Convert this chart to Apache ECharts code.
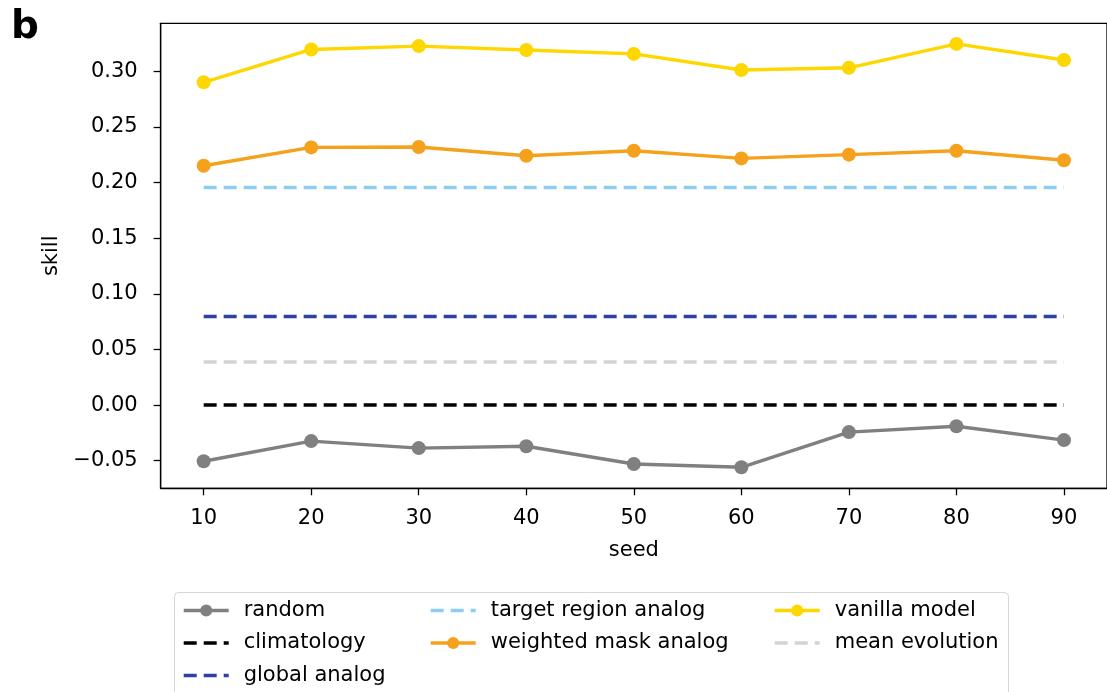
<!DOCTYPE html>
<html>
<head>
<meta charset="utf-8">
<script src="https://cdn.jsdelivr.net/npm/echarts@6/dist/echarts.min.js"></script>
<style>
html,body{margin:0;padding:0;background:#fff;}
#chart{width:1107px;height:692px;}
</style>
</head>
<body>
<div id="chart"></div>
<script>
const seeds = [10, 20, 30, 40, 50, 60, 70, 80, 90];
const yTicks = [-0.05, 0.00, 0.05, 0.10, 0.15, 0.20, 0.25, 0.30];
const randomVals = [-0.0505, -0.0324, -0.0387, -0.0370, -0.0530, -0.0559, -0.0243, -0.0190, -0.0315];
const climatologyVals = [0, 0, 0, 0, 0, 0, 0, 0, 0];
const globalAnalogVals = [0.0795, 0.0795, 0.0795, 0.0795, 0.0795, 0.0795, 0.0795, 0.0795, 0.0795];
const targetRegionVals = [0.1955, 0.1955, 0.1955, 0.1955, 0.1955, 0.1955, 0.1955, 0.1955, 0.1955];
const weightedMaskVals = [0.2150, 0.2315, 0.2318, 0.2240, 0.2285, 0.2216, 0.2250, 0.2285, 0.2200];
const vanillaVals = [0.2900, 0.3195, 0.3225, 0.3190, 0.3155, 0.3010, 0.3030, 0.3245, 0.3100];
const meanEvolutionVals = [0.0387, 0.0387, 0.0387, 0.0387, 0.0387, 0.0387, 0.0387, 0.0387, 0.0387];

const FONT = 'DejaVu Sans';
const FS = 21;
const LW = 3.4;
const DASH = [13, 7];
const pairs = v => seeds.map((s, i) => [s, v[i]]);
const dashedNames = ['climatology', 'global analog', 'target region analog', 'mean evolution'];

function markerSeries(name, vals, color) {
  return {
    name, type: 'line', data: pairs(vals),
    symbol: 'circle', symbolSize: 14, showSymbol: true,
    lineStyle: { color, width: LW },
    itemStyle: { color },
    emphasis: { disabled: true }, animation: false
  };
}
function dashSeries(name, vals, color) {
  return {
    name, type: 'line', data: pairs(vals),
    symbol: 'none',
    lineStyle: { color, width: LW, type: DASH },
    itemStyle: { color },
    emphasis: { disabled: true }, animation: false
  };
}

function legendCol(left, names) {
  return {
    show: true, orient: 'vertical', left, top: 600, padding: 0,
    itemWidth: 45, itemHeight: 15, itemGap: 11.5,
    data: names.map(n => dashedNames.includes(n)
      ? { name: n, itemStyle: { color: 'rgba(0,0,0,0)', borderWidth: 0, opacity: 0 } }
      : { name: n }),
    selectedMode: false,
    lineStyle: { width: LW },
    textStyle: { fontFamily: FONT, fontSize: FS, color: '#000', lineHeight: 21, padding: [0, 0, 0, 10] }
  };
}

const chart = echarts.init(document.getElementById('chart'), null, { renderer: 'canvas' });
chart.setOption({
  backgroundColor: '#fff',
  animation: false,
  textStyle: { fontFamily: FONT },
  title: {
    text: 'b', left: 6, top: 3,
    textStyle: { fontFamily: FONT, fontWeight: 'bold', fontSize: 39, color: '#000' }
  },
  grid: {
    left: 160.65, top: 23.3, width: 953.7, height: 465,
    show: true, borderColor: '#000', borderWidth: 1.3, containLabel: false
  },
  xAxis: {
    type: 'value', min: 6, max: 94,
    name: 'seed', nameLocation: 'middle', nameGap: 52,
    nameTextStyle: { fontFamily: FONT, fontSize: FS, color: '#000' },
    axisLine: { show: true, onZero: false, lineStyle: { color: '#000', width: 1.3 } },
    axisTick: { show: true, customValues: seeds, length: 7, lineStyle: { color: '#000', width: 1.3 } },
    axisLabel: { customValues: seeds, fontFamily: FONT, fontSize: FS, color: '#000', margin: 20 },
    splitLine: { show: false }
  },
  yAxis: {
    type: 'value', min: -0.0748, max: 0.343,
    name: 'skill', nameLocation: 'middle', nameGap: 96,
    nameTextStyle: { fontFamily: FONT, fontSize: FS, color: '#000' },
    axisLine: { show: true, onZero: false, lineStyle: { color: '#000', width: 1.3 } },
    axisTick: { show: true, customValues: yTicks, length: 7, lineStyle: { color: '#000', width: 1.3 } },
    axisLabel: {
      customValues: yTicks, fontFamily: FONT, fontSize: FS, color: '#000', margin: 23,
      formatter: v => v.toFixed(2).replace('-', '\u2212')
    },
    splitLine: { show: false }
  },
  legend: [
    legendCol(182, ['random', 'climatology', 'global analog']),
    legendCol(429, ['target region analog', 'weighted mask analog']),
    legendCol(773, ['vanilla model', 'mean evolution'])
  ],
  graphic: [{
    type: 'rect', z: -1,
    shape: { x: 174.5, y: 592.5, width: 834, height: 120, r: 4 },
    style: { fill: '#fff', stroke: '#d6d6d6', lineWidth: 1 }
  }],
  series: [
    markerSeries('random', randomVals, '#808080'),
    dashSeries('climatology', climatologyVals, '#000000'),
    dashSeries('global analog', globalAnalogVals, '#2f42a0'),
    dashSeries('target region analog', targetRegionVals, '#8ecdf2'),
    markerSeries('weighted mask analog', weightedMaskVals, '#f5a11c'),
    markerSeries('vanilla model', vanillaVals, '#ffd700'),
    dashSeries('mean evolution', meanEvolutionVals, '#d3d3d3')
  ]
});
</script>
</body>
</html>
